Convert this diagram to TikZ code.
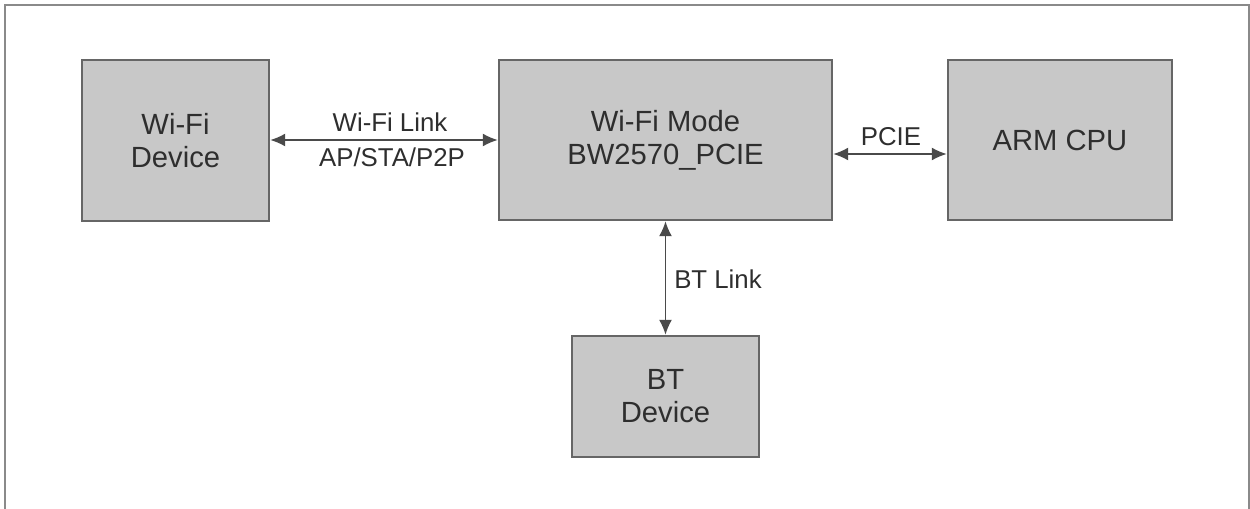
\documentclass[tikz,border=0pt]{standalone}
\usepackage{fontspec}
\setmainfont{Liberation Sans}
\usetikzlibrary{arrows.meta}
\definecolor{boxfill}{HTML}{C8C8C8}
\definecolor{boxline}{HTML}{666666}
\definecolor{frameline}{HTML}{8A8A8A}
\definecolor{txt}{HTML}{2E2E2E}
\definecolor{arrowline}{HTML}{4A4A4A}
\begin{document}
\begin{tikzpicture}[x=0.5pt,y=-0.5pt,
  blockbox/.style={draw=boxline,fill=boxfill,line width=1.2pt,inner sep=0pt,
    align=center,text=txt,font=\fontsize{14.6}{16.5}\selectfont},
  linklabel/.style={inner sep=0pt,text=txt,font=\fontsize{12.9}{14}\selectfont},
  linkarrow/.style={draw=arrowline,line width=0.8pt,{Latex[length=7.5pt,width=6.5pt]}-{Latex[length=7.5pt,width=6.5pt]}}]
\useasboundingbox (0,0) rectangle (1250,509);
\draw[frameline,line width=1pt] (4.5,509) -- (4.5,5) -- (1248.5,5) -- (1248.5,509);
\node[blockbox,minimum width=93.5pt,minimum height=80.5pt] (wd) at (175.5,140.5) {Wi-Fi\\Device};
\node[blockbox,minimum width=166.5pt,minimum height=80pt] (wm) at (665.5,140) {Wi-Fi Mode\\BW2570\_PCIE};
\node[blockbox,minimum width=112pt,minimum height=80pt] (arm) at (1060,140) {ARM CPU};
\node[blockbox,minimum width=93.5pt,minimum height=60.5pt] (bt) at (665.5,396.5) {BT\\Device};
\coordinate (wy) at (0,140);
\coordinate (py) at (0,154);
\draw[linkarrow] (wd.east |- wy) -- (wm.west |- wy);
\draw[linkarrow] (wm.east |- py) -- (arm.west |- py);
\draw[linkarrow] (wm.south) -- (bt.north);
\node[linklabel] (l1) at (390,122) {Wi-Fi Link};
\node[linklabel] (l2) at (392,157) {AP/STA/P2P};
\node[linklabel] (l3) at (891,137) {PCIE};
\node[linklabel] (l4) at (718,279) {BT Link};
\end{tikzpicture}
\end{document}
